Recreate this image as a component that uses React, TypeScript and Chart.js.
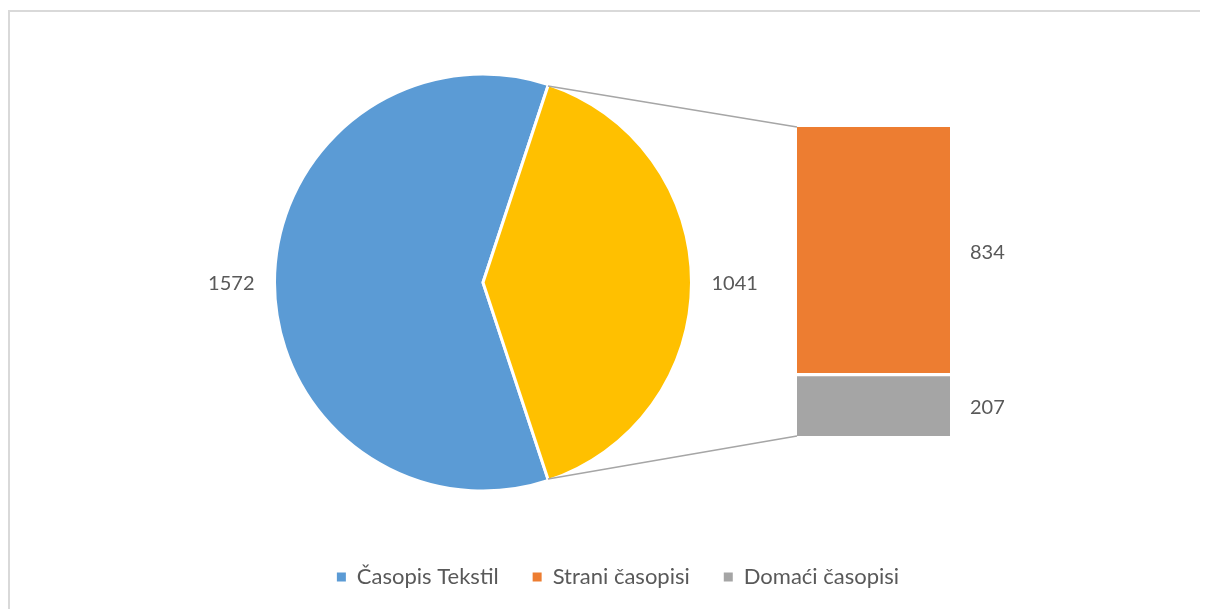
import React, { useEffect, useRef } from 'react';
import { Chart, registerables } from 'chart.js';

Chart.register(...registerables);

// ---- data ----
const PIE_LABELS = ['Časopis Tekstil', 'Ostali časopisi'];
const PIE_VALUES = [1572, 1041];
const PIE_COLORS = ['#5B9BD5', '#FFC000'];

const BAR_LABELS = ['Strani časopisi', 'Domaći časopisi'];
const BAR_VALUES = [834, 207];
const BAR_COLORS = ['#ED7D31', '#A5A5A5'];

const LEGEND_LABELS = ['Časopis Tekstil', 'Strani časopisi', 'Domaći časopisi'];
const LEGEND_COLORS = ['#5B9BD5', '#ED7D31', '#A5A5A5'];

const X_SLOTS = ['', 'Ostali časopisi'];

// ---- layout / style ----
const W = 1198;
const H = 597;
const BOX_W = 1240;
const FONT = 'Lato';
const TEXT_COLOR = '#595959';
const LABEL_SIZE = 20;
const LEGEND_SIZE = 22;
const BAR_HEIGHT = 309;
const LINE_COLOR = '#A6A6A6';

export default function App() {
  const pieRef = useRef<HTMLCanvasElement | null>(null);
  const barRef = useRef<HTMLCanvasElement | null>(null);

  useEffect(() => {
    document.documentElement.style.overflow = 'hidden';
    document.body.style.overflow = 'hidden';
    if (!pieRef.current || !barRef.current) return;
    const total = PIE_VALUES.reduce((a, b) => a + b, 0);
    const rotation = 90 + (PIE_VALUES[1] / total) * 180;

    const pieLabelPlugin = {
      id: 'pieLabels',
      afterDatasetsDraw(chart: any) {
        const ctx = chart.ctx;
        const meta = chart.getDatasetMeta(0);
        meta.data.forEach((arc: any, i: number) => {
          const { x, y, startAngle, endAngle, outerRadius } = arc;
          const mid = (startAngle + endAngle) / 2;
          const c = Math.cos(mid);
          const s = Math.sin(mid);
          const r = outerRadius + 20;
          ctx.save();
          ctx.font = `${LABEL_SIZE}px ${FONT}`;
          ctx.fillStyle = TEXT_COLOR;
          ctx.textBaseline = 'middle';
          ctx.textAlign = c >= 0 ? 'left' : 'right';
          ctx.fillText(String(PIE_VALUES[i]), x + c * r, y + s * r + 1);
          ctx.restore();
        });
      },
    };

    const pie = new Chart(pieRef.current, {
      type: 'pie',
      data: {
        labels: PIE_LABELS,
        datasets: [
          {
            data: PIE_VALUES,
            backgroundColor: PIE_COLORS,
            borderColor: '#FFFFFF',
            borderWidth: 3,
          },
        ],
      },
      options: {
        responsive: false,
        animation: false,
        events: [],
        rotation,
        layout: { padding: { left: 263, right: 515, top: 60.5, bottom: H - 480.5 } },
        plugins: { legend: { display: false }, tooltip: { enabled: false } },
      } as any,
      plugins: [pieLabelPlugin],
    });

    const barExtrasPlugin = {
      id: 'barExtras',
      afterDatasetsDraw(chart: any) {
        const ctx = chart.ctx;
        const topBar = chart.getDatasetMeta(1).data[1];
        const bottomBar = chart.getDatasetMeta(0).data[1];
        if (!topBar || !bottomBar) return;
        const left = topBar.x - topBar.width / 2;
        // connector lines
        const arc: any = pie.getDatasetMeta(0).data[1];
        if (arc) {
          const r = arc.outerRadius - 1.5;
          const p1 = { x: arc.x + r * Math.cos(arc.startAngle), y: arc.y + r * Math.sin(arc.startAngle) };
          const p2 = { x: arc.x + r * Math.cos(arc.endAngle), y: arc.y + r * Math.sin(arc.endAngle) };
          ctx.save();
          ctx.strokeStyle = LINE_COLOR;
          ctx.lineWidth = 1.5;
          ctx.beginPath();
          ctx.moveTo(p1.x, p1.y);
          ctx.lineTo(left, topBar.y);
          ctx.moveTo(p2.x, p2.y);
          ctx.lineTo(left, bottomBar.base);
          ctx.stroke();
          ctx.restore();
        }
        // bar value labels
        ctx.save();
        ctx.font = `${LABEL_SIZE}px ${FONT}`;
        ctx.fillStyle = TEXT_COLOR;
        ctx.textBaseline = 'middle';
        ctx.textAlign = 'left';
        chart.data.datasets.forEach((ds: any, di: number) => {
          const el = chart.getDatasetMeta(di).data[1];
          ctx.fillText(String(ds.data[1]), el.x + el.width / 2 + 20, (el.y + el.base) / 2 + 2);
        });
        ctx.restore();
      },
    };

    const bar = new Chart(barRef.current, {
      type: 'bar',
      data: {
        labels: X_SLOTS,
        datasets: [
          {
            label: BAR_LABELS[1],
            data: [null, BAR_VALUES[1]],
            backgroundColor: BAR_COLORS[1],
            borderColor: '#FFFFFF',
            borderWidth: { top: 2, bottom: 0, left: 0, right: 0 },
            borderSkipped: false,
            barThickness: 153,
          },
          {
            label: BAR_LABELS[0],
            data: [null, BAR_VALUES[0]],
            backgroundColor: BAR_COLORS[0],
            borderColor: '#FFFFFF',
            borderWidth: { top: 0, bottom: 2, left: 0, right: 0 },
            borderSkipped: false,
            barThickness: 153,
          },
        ],
      },
      options: {
        responsive: false,
        animation: false,
        events: [],
        layout: { padding: { left: 97, right: 79, top: 115, bottom: 11 } },
        scales: {
          x: { display: false, stacked: true },
          y: { display: false, stacked: true, min: 0, max: PIE_VALUES[1] },
        },
        plugins: {
          tooltip: { enabled: false },
          legend: {
            display: true,
            position: 'bottom',
            labels: {
              font: { family: FONT, size: LEGEND_SIZE },
              color: TEXT_COLOR,
              boxWidth: 9,
              boxHeight: 9,
              padding: 34,
              generateLabels: () =>
                LEGEND_LABELS.map((t, i) => ({
                  text: t,
                  fillStyle: LEGEND_COLORS[i],
                  strokeStyle: LEGEND_COLORS[i],
                  lineWidth: 0,
                  hidden: false,
                  index: i,
                  fontColor: TEXT_COLOR,
                })),
            },
          },
        },
      } as any,
      plugins: [barExtrasPlugin],
    });

    // place value 0 so that the stacked bar has its intended pixel height
    const ca = bar.chartArea;
    const max = PIE_VALUES[1];
    (bar.options as any).scales.y.min = max - (max * (ca.bottom - ca.top)) / BAR_HEIGHT;
    bar.update();

    return () => {
      bar.destroy();
      pie.destroy();
    };
  }, []);

  return (
    <div style={{ paddingTop: 2, width: BOX_W }}>
      <div
        style={{
          position: 'relative',
          width: BOX_W,
          height: H,
          borderTop: '2px solid #D9D9D9',
          borderLeft: '2px solid #D9D9D9',
          background: '#FFFFFF',
          overflow: 'hidden',
        }}
      >
        <canvas ref={pieRef} width={W} height={H} style={{ position: 'absolute', left: 0, top: 0 }} />
        <canvas ref={barRef} width={W} height={H} style={{ position: 'absolute', left: 0, top: 0 }} />
      </div>
    </div>
  );
}
